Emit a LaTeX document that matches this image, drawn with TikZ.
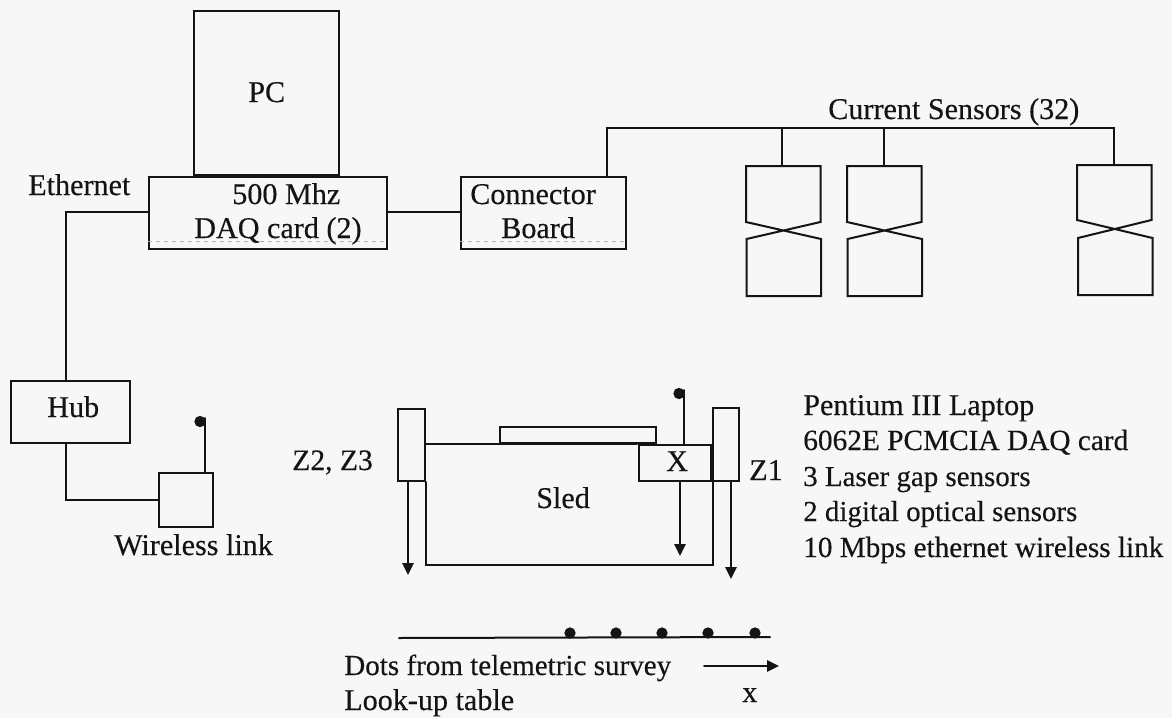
\documentclass[tikz,border=0pt]{standalone}
\usepackage{fontspec}
\setmainfont{Liberation Serif}[RawFeature={embolden=0.35}]
\usetikzlibrary{arrows.meta}
\definecolor{paper}{HTML}{F7F7F7}
\definecolor{ink}{HTML}{141414}
\tikzset{
  x=0.75pt,y=-0.75pt,
  ln/.style={draw=ink,line width=1.5pt,line cap=round,line join=miter},
  lbl/.style={inner sep=0pt,anchor=base west,text=ink,font=\fontsize{22.6}{26}\selectfont},
  fs/.style={font=\fontsize{#1}{26}\selectfont},
  box/.style={ln,fill=none},
  arr/.style={ln,-{Triangle[length=9pt,width=8.5pt]}},
  dot/.style={circle,fill=ink,inner sep=0pt,minimum size=8.5pt}
}
\newcommand{\rbox}[5]{\node[box,rectangle,inner sep=0pt,minimum width=#4*0.75pt-1.5pt,minimum height=#5*0.75pt-1.5pt,anchor=north west] (#1) at (#2,#3) {};}
\begin{document}
\begin{tikzpicture}
\useasboundingbox[fill=paper] (0,0) rectangle (1172,718);
% upper boxes
\rbox{pc}{193}{9.5}{147}{166}
\rbox{daq}{148}{176}{240}{74}
\rbox{board}{460}{175.5}{167}{74.5}
\draw[gray!60,dashed,line width=0.5pt] (daq.west |- 0,241) -- (daq.east |- 0,241);
\draw[gray!60,dashed,line width=0.5pt] (board.west |- 0,241) -- (board.east |- 0,241);
\node[lbl] (tpc) at (248,102) {PC};
\node[lbl] (teth) at (28,195) {Ethernet};
\node[lbl] (t500) at (232,204) {500 Mhz};
\node[lbl] (tdaq) at (194,238) {DAQ card (2)};
\node[lbl] (tcon) at (470,204) {Connector};
\node[lbl] (tboa) at (501,238) {Board};
\node[lbl] (tcur) at (828,119) {Current Sensors (32)};
\draw[ln] (daq.east |- 0,212) -- (board.west |- 0,212);
% current sensors bus
\coordinate (busL) at (607,128);
\coordinate (busR) at (1114,128);
\coordinate (s1top) at (782,166);
\coordinate (s2top) at (884,166);
\coordinate (s3top) at (1114,165);
\draw[ln] (busL |- board.north) -- (busL) -- (busR) -- (s3top);
\draw[ln] (s1top |- busL) -- (s1top);
\draw[ln] (s2top |- busL) -- (s2top);
\draw[ln] (746,222) -- (746,166) -- (820.5,166) -- (820.5,222) -- (746.5,239) -- (746.5,296) -- (821,296) -- (821,239) -- cycle;
\draw[ln] (847,222) -- (847,166) -- (921.5,166) -- (921.5,222) -- (847.5,239) -- (847.5,296) -- (922,296) -- (922,239) -- cycle;
\draw[ln] (1077,220) -- (1077,165) -- (1151.5,165) -- (1151.5,220) -- (1078,238) -- (1078,295) -- (1152.5,295) -- (1152.5,238) -- cycle;
% hub and wireless
\rbox{hub}{10}{379.5}{121}{64.5}
\rbox{wl}{158}{472}{56}{56}
\node[lbl] (thub) at (47,417) {Hub};
\node[lbl] (twl) at (114,555) {Wireless link};
\coordinate (ethc) at (65.5,212);
\draw[ln] (daq.west |- ethc) -- (ethc) -- (ethc |- hub.north);
\draw[ln] (66,444) -- (66,500) -- (wl.west |- 0,500);
\node[dot] (ant1) at (200,421.5) {};
\draw[ln] (204.5,472) -- (204.5,418);
% sled
\rbox{z2}{397}{408}{29}{74}
\rbox{plate}{499}{426}{158}{18}
\draw[ln] (426,444) -- (637,444);
\draw[ln] (426,482) -- (426,564.5) -- (712.5,564.5) -- (712.5,482);
\rbox{xbox}{637.5}{444}{74}{38}
\rbox{z1}{711.5}{407}{28}{74.5}
\node[lbl,fs=22.2] (tz23) at (292,470) {Z2, Z3};
\node[lbl] (tx) at (666,471) {X};
\node[lbl] (tz1) at (749,480) {Z1};
\node[lbl] (tsled) at (536,508) {Sled};
\draw[arr] (408,482) -- (408,575);
\draw[arr] (680,482) -- (680,556);
\draw[arr] (731,481.5) -- (731,579);
\node[dot] (ant2) at (679,393.5) {};
\draw[ln] (684,444) -- (684,390);
% survey line
\coordinate (lineL) at (399,638);
\coordinate (lineR) at (770,637);
\draw[ln] (lineL) -- (lineR);
\foreach \n/\xx in {a/570,b/616,c/662,d/708,e/755}{\node[dot] (d\n) at (\xx,633) {};}
\node[lbl,fs=21.8] (tdots) at (344,675) {Dots from telemetric survey};
\node[lbl] (tlook) at (344,710) {Look-up table};
\coordinate (xa) at (704,666);
\coordinate (xb) at (779,666);
\draw[arr] (xa) -- (xb);
\node[lbl] (txx) at (742,702) {x};
% laptop list
\node[lbl] (l1) at (803,415) {Pentium III Laptop};
\node[lbl,fs=22] (l2) at (803,450) {6062E PCMCIA DAQ card};
\node[lbl,fs=21.7] (l3) at (803,486) {3 Laser gap sensors};
\node[lbl,fs=21.7] (l4) at (803,521) {2 digital optical sensors};
\node[lbl,fs=21.9] (l5) at (803,557) {10 Mbps ethernet wireless link};
\end{tikzpicture}
\end{document}
